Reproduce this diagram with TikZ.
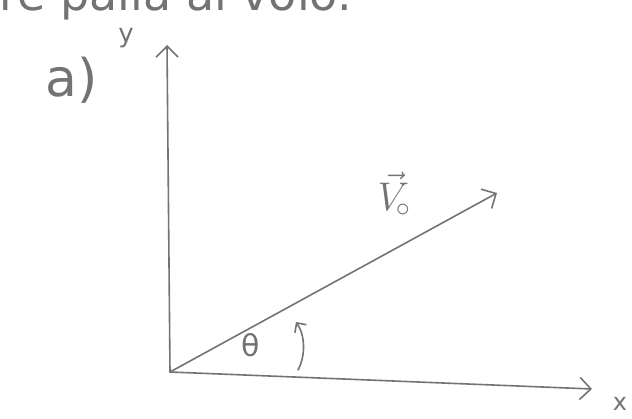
\RequirePackage{fix-cm}
\documentclass[tikz,border=0pt]{standalone}
\usepackage{fontspec}
\setmainfont{DejaVu Sans}
\usetikzlibrary{arrows.meta}
\begin{document}
\begin{tikzpicture}[x=1pt,y=-1pt]
\useasboundingbox (0,0) rectangle (632,419);
\clip (0,0) rectangle (632,419);
\tikzset{pen/.style={draw=black!55, line width=1.6pt, line cap=round,
  -{Straight Barb[length=11pt,width=22pt,line width=1.6pt]}},
  hand/.style={text=black!55}}
\coordinate (o) at (170,372);
\coordinate (ytip) at (167,45);
\coordinate (xtip) at (592,389);
\coordinate (vtip) at (497,193);
\draw[pen] (o) -- (ytip);
\draw[pen] (o) -- (xtip);
\draw[pen] (o) -- (vtip);
\draw[pen,-{Straight Barb[length=7pt,width=14pt,line width=1.6pt]}]
  (298,370) .. controls (306,355) and (305,335) .. (296,322);
\node[hand, font=\fontsize{26}{28}\selectfont] (ylab) at (126,38) {y};
\node[hand, font=\fontsize{24}{26}\selectfont] (xlab) at (620,404) {x};
\node[hand, font=\fontsize{52}{54}\selectfont] (part) at (72,80) {a)};
\node[hand, font=\fontsize{40}{42}\selectfont] (vlab) at (394,194) {$\vec{V}_{\!\circ}$};
\node[hand, font=\fontsize{30}{32}\selectfont] (theta) at (251,345) {θ};
\node[hand, font=\fontsize{46}{48}\selectfont, anchor=base west] (top) at (-4,11) {re palla al volo.};
\end{tikzpicture}
\end{document}
